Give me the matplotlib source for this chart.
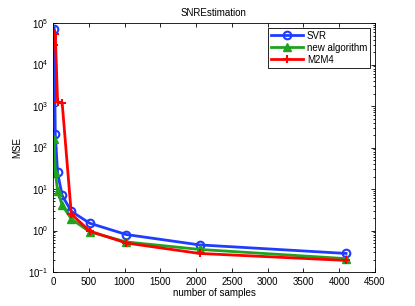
import matplotlib
matplotlib.use("Agg")
import matplotlib.pyplot as plt
from matplotlib.ticker import FixedLocator, NullFormatter

plt.rcParams['font.family'] = ['Liberation Sans', 'DejaVu Sans']

samples = [16, 32, 64, 128, 256, 512, 1024, 2048, 4096]
svr = [7.2e4, 210, 25, 7.0, 2.9, 1.5, 0.8, 0.45, 0.28]
new_alg = [157, 26, 9.0, 4.1, 1.9, 0.93, 0.53, 0.35, 0.21]
m2m4 = [3.0e4, 5.4e4, 1.25e3, 1.2e3, 2.5, 0.97, 0.5, 0.28, 0.19]
y_ticks = [1e-1, 1e0, 1e1, 1e2, 1e3, 1e4, 1e5]

fig = plt.figure(figsize=(4.15, 3.06), dpi=100)
ax = fig.add_axes([0.1277, 0.1111, 0.7759, 0.8137])

ax.plot(samples, svr, color='#1f3cff', lw=2, marker='o', ms=5.5,
        mfc='none', mec='#1f3cff', mew=1.5, label='SVR')
ax.plot(samples, new_alg, color='#1fa31f', lw=2, marker='^', ms=6,
        mfc='#1fa31f', mec='#1fa31f', label='new algorithm')
ax.plot(samples, m2m4, color='#ff0000', lw=2, marker='+', ms=6,
        mew=1.5, label='M2M4')

ax.set_yscale('log')
ax.set_xlim(0, 4500)
ax.set_ylim(1e-1, 1e5)
ax.set_xticks(range(0, 4501, 500))
ax.set_yticks(y_ticks)
minors = [m * t for t in y_ticks[:-1] for m in range(2, 10)]
ax.yaxis.set_minor_locator(FixedLocator(minors))
ax.yaxis.set_minor_formatter(NullFormatter())

ax.tick_params(axis='both', which='both', direction='in', top=True, right=True,
               labelsize=7, width=0.6)
ax.tick_params(which='major', length=3)
ax.tick_params(which='minor', length=1.5)
for s in ax.spines.values():
    s.set_linewidth(0.6)

ax.set_title('SNREstimation', fontsize=7, pad=5)
ax.set_xlabel('number of samples', fontsize=7, labelpad=1)
ax.set_ylabel('MSE', fontsize=7, labelpad=4)

leg = ax.legend(loc='upper right', fontsize=7, fancybox=False, framealpha=1,
                edgecolor='black', borderpad=0.3, labelspacing=0.2,
                handlelength=3.3, handletextpad=0.4, borderaxespad=0.5)
leg.get_frame().set_linewidth(0.6)

fig.savefig('out.png', dpi=100)
